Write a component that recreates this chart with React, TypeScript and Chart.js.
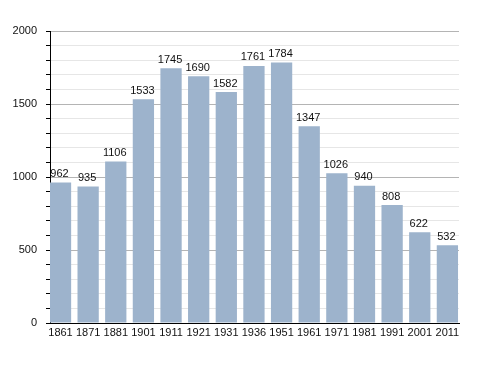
import React, { useEffect, useRef } from "react";
import { Chart, registerables } from "chart.js";

Chart.register(...registerables);

const years = ["1861", "1871", "1881", "1901", "1911", "1921", "1931", "1936", "1951", "1961", "1971", "1981", "1991", "2001", "2011"];
const population = [962, 935, 1106, 1533, 1745, 1690, 1582, 1761, 1784, 1347, 1026, 940, 808, 622, 532];
const yMin = 0;
const yMax = 2000;
const minorStep = 100;
const majorStep = 500;

const FONT = "'Liberation Sans', Arial, sans-serif";

const valueLabels = {
  id: "valueLabels",
  afterDatasetsDraw(chart: any) {
    const ctx = chart.ctx;
    const meta = chart.getDatasetMeta(0);
    ctx.save();
    ctx.font = `11px ${FONT}`;
    ctx.fillStyle = "#111";
    ctx.textAlign = "center";
    ctx.textBaseline = "bottom";
    meta.data.forEach((bar: any, i: number) => {
      ctx.fillText(String(population[i]), bar.x - 1, bar.y - 3);
    });
    ctx.restore();
  },
};

export default function App() {
  const ref = useRef<HTMLCanvasElement>(null);
  useEffect(() => {
    if (!ref.current) return;
    const chart = new Chart(ref.current, {
      type: "bar",
      data: {
        datasets: [
          {
            data: population.map((v, i) => ({ x: i, y: v })),
            backgroundColor: "#9db3cc",
            borderWidth: 0,
            barPercentage: 0.77,
            categoryPercentage: 1,
          },
        ],
      },
      options: {
        responsive: false,
        animation: false,
        layout: { padding: { top: 31, right: 29, bottom: 0, left: 0 } },
        plugins: { legend: { display: false }, tooltip: { enabled: false } },
        scales: {
          x: {
            type: "linear",
            min: -0.38,
            max: 14.42,
            offset: false,
            grid: { display: false, drawTicks: false },
            border: { color: "#000", width: 1 },
            ticks: {
              color: "#111",
              font: { size: 11, family: FONT },
              padding: 3,
              maxRotation: 0,
              autoSkip: false,
              callback: (v: any) => years[Number(v)] ?? "",
            },
            afterBuildTicks: (s: any) => {
              s.ticks = years.map((_, i) => ({ value: i }));
            },
            afterFit: (s: any) => {
              s.height = 50;
            },
          },
          y: {
            min: yMin,
            max: yMax,
            border: { color: "#000", width: 1 },
            grid: {
              color: (c: any) => (c.tick && c.tick.value % majorStep === 0 ? "#b4b4b4" : "#e6e6e6"),
              tickColor: "#000",
              tickLength: 4,
            },
            ticks: {
              stepSize: minorStep,
              autoSkip: false,
              color: "#111",
              font: { size: 11, family: FONT },
              padding: 9,
              callback: (v: any) => (Number(v) % majorStep === 0 ? String(v) : ""),
            },
            afterFit: (s: any) => {
              s.width = 50;
            },
          },
        },
      },
      plugins: [valueLabels],
    });
    return () => chart.destroy();
  }, []);
  return (
    <div style={{ position: "fixed", left: 0, top: 0, width: 488, height: 373, background: "#fff" }}>
      <canvas ref={ref} width={488} height={373} />
    </div>
  );
}
